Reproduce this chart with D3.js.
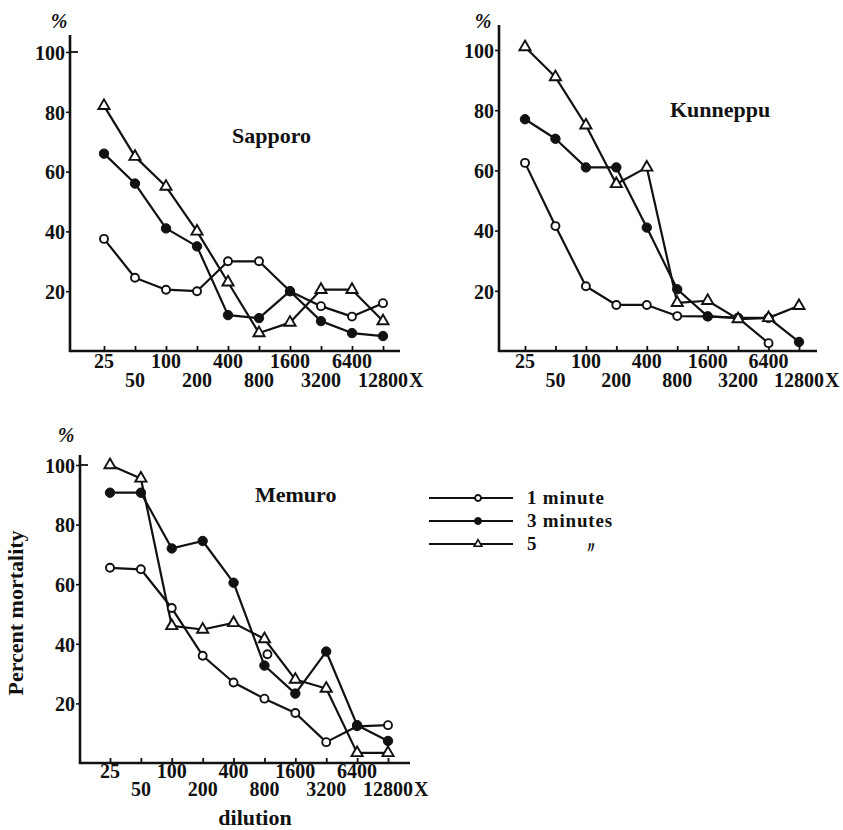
<!DOCTYPE html>
<html>
<head>
<meta charset="utf-8">
<script src="https://cdn.jsdelivr.net/npm/d3@7"></script>
<style>
  body { margin: 0; background: #fff; }
  svg text { font-family: "Liberation Serif", "Times New Roman", serif; font-weight: bold; fill: #111; }
</style>
</head>
<body>
<svg id="chart" width="843" height="830"></svg>
<script>
// dilution steps shared by all three panels
const dilutions = ['25', '50', '100', '200', '400', '800', '1600', '3200', '6400', '12800'];
const yTicks = [20, 40, 60, 80, 100];

// percent mortality (null = no point plotted)
const sapporo1 = [37.5, 24.5, 20.5, 20, 30, 30, 20, 15, 11.5, 16];
const sapporo3 = [66, 56, 41, 35, 12, 11, 20, 10, 6, 5];
const sapporo5 = [82, 65, 55, 40, 23, 6, 9.5, 20.5, 20.5, 10];

const kunneppu1 = [62.5, 41.5, 21.5, 15.3, 15.3, 11.6, 11.5, 11, 2.6, null];
const kunneppu3 = [77, 70.5, 61, 61, 41, 20.5, 11.5, 11, 11, 3];
const kunneppu5 = [101, 91, 75, 55.5, 61, 16, 16.7, 10.6, 11, 15];

const memuro1 = [65.5, 65, 52, 36, 27, 21.6, 16.8, 7, 12.3, 12.7];
const memuro3 = [90.7, 90.7, 72, 74.5, 60.5, 32.7, 23.3, 37.4, 12.7, 7.4];
const memuro5 = [100, 95.5, 46, 44.8, 47, 41.6, 28, 25, 3.4, 3.4];
// lone open circle printed beside the 800 step in Memuro
const memuroStray = [{ dilution: '800', value: 36.5 }];

const legendLabels = ['1 minute', '3 minutes', '5'];

const svg = d3.select('#chart');
const ink = '#111';

const panels = [
  { title: 'Sapporo', series: [sapporo1, sapporo3, sapporo5], stray: [],
    axisX: 70, axisTop: 35, axisRight: 400, yBottom: 351, yTop: 52, xFirst: 104, xLast: 383,
    rows: [368, 387], pct: [59, 28], titleAt: [232, 143], topTickRight: true },
  { title: 'Kunneppu', series: [kunneppu1, kunneppu3, kunneppu5], stray: [],
    axisX: 499, axisTop: 25, axisRight: 817, yBottom: 351, yTop: 50, xFirst: 525, xLast: 799,
    rows: [368, 387], pct: [483, 28], titleAt: [670, 117], topTickRight: false },
  { title: 'Memuro', series: [memuro1, memuro3, memuro5], stray: memuroStray,
    axisX: 80, axisTop: 455, axisRight: 410, yBottom: 763, yTop: 465, xFirst: 110, xLast: 388,
    rows: [778, 796], pct: [66, 442], titleAt: [255, 502], topTickRight: true },
];

const kinds = ['open', 'filled', 'triangle'];

function drawMarker(sel, kind, small) {
  if (kind === 'triangle') {
    sel.append('path')
      .attr('d', d3.symbol(d3.symbolTriangle, small ? 26 : 54)())
      .attr('fill', '#fff').attr('stroke', ink).attr('stroke-width', small ? 1.6 : 1.9);
  } else {
    sel.append('circle')
      .attr('r', kind === 'open' ? (small ? 3 : 4) : (small ? 3.5 : 4.7))
      .attr('fill', kind === 'open' ? '#fff' : ink)
      .attr('stroke', ink).attr('stroke-width', kind === 'open' ? 1.9 : 1);
  }
}

panels.forEach(p => {
  const g = svg.append('g');
  const x = d3.scalePoint().domain(dilutions).range([p.xFirst, p.xLast]);
  const y = d3.scaleLinear().domain([0, 100]).range([p.yBottom, p.yTop]);

  // axis lines
  g.append('line')
    .attr('x1', p.axisX).attr('x2', p.axisX).attr('y1', p.axisTop).attr('y2', y(0) + 1)
    .attr('stroke', ink).attr('stroke-width', 2.6);
  g.append('line')
    .attr('x1', p.axisX - 1).attr('x2', p.axisRight).attr('y1', y(0)).attr('y2', y(0))
    .attr('stroke', ink).attr('stroke-width', 2.6);

  // y axis ticks and labels
  const yAxis = g.append('g')
    .attr('transform', `translate(${p.axisX},0)`)
    .call(d3.axisLeft(y).tickValues(yTicks).tickSize(4).tickPadding(1));
  yAxis.select('.domain').remove();
  yAxis.selectAll('line').attr('stroke', ink).attr('stroke-width', 1.6);
  yAxis.selectAll('text').attr('font-size', 20).attr('fill', ink).attr('dy', '0.36em');
  if (p.topTickRight) {
    g.append('line')
      .attr('x1', p.axisX).attr('x2', p.axisX + 8).attr('y1', y(100)).attr('y2', y(100))
      .attr('stroke', ink).attr('stroke-width', 1.8);
  }

  // x ticks pointing up
  const xAxis = g.append('g')
    .attr('transform', `translate(0,${y(0)})`)
    .call(d3.axisBottom(x).tickSize(-5).tickFormat(''));
  xAxis.select('.domain').remove();
  xAxis.selectAll('line').attr('stroke', ink).attr('stroke-width', 1.8);

  // staggered dilution labels
  g.selectAll('.xlab')
    .data(dilutions)
    .join('text')
      .attr('class', 'xlab')
      .attr('x', d => x(d))
      .attr('y', (d, i) => p.rows[i % 2])
      .attr('text-anchor', 'middle')
      .attr('font-size', 20)
      .text(d => d);
  const last = dilutions[dilutions.length - 1];
  const lastW = g.selectAll('.xlab').filter(d => d === last).node().getComputedTextLength();
  g.append('text')
    .attr('x', x(last) + lastW / 2 + 1)
    .attr('y', p.rows[1])
    .attr('font-size', 20)
    .text('X');

  g.append('text')
    .attr('x', p.pct[0]).attr('y', p.pct[1])
    .attr('text-anchor', 'middle')
    .attr('font-size', 20).attr('font-style', 'italic')
    .text('%');

  g.append('text')
    .attr('x', p.titleAt[0]).attr('y', p.titleAt[1])
    .attr('font-size', 22)
    .text(p.title);

  // series lines
  const line = d3.line()
    .defined(d => d.value != null)
    .x(d => x(d.dilution))
    .y(d => y(d.value));

  p.series.forEach(vals => {
    const pts = dilutions.map((d, i) => ({ dilution: d, value: vals[i] }));
    g.append('path')
      .datum(pts)
      .attr('d', line)
      .attr('fill', 'none')
      .attr('stroke', ink)
      .attr('stroke-width', 2.2)
      .attr('stroke-linejoin', 'round');
  });

  p.series.forEach((vals, si) => {
    const pts = dilutions.map((d, i) => ({ dilution: d, value: vals[i] })).filter(d => d.value != null);
    g.selectAll(null)
      .data(pts)
      .join('g')
        .attr('transform', d => `translate(${x(d.dilution)},${y(d.value)})`)
        .each(function() { drawMarker(d3.select(this), kinds[si], false); });
  });

  g.selectAll(null)
    .data(p.stray)
    .join('g')
      .attr('transform', d => `translate(${x(d.dilution) + 3},${y(d.value)})`)
      .each(function() { drawMarker(d3.select(this), 'open', false); });
});

// axis titles for the Memuro panel
svg.append('text')
  .attr('transform', 'translate(23,613) rotate(-90)')
  .attr('text-anchor', 'middle')
  .attr('font-size', 22)
  .text('Percent mortality');

svg.append('text')
  .attr('x', 255).attr('y', 825)
  .attr('text-anchor', 'middle')
  .attr('font-size', 22)
  .text('dilution');

// legend
const legend = svg.append('g');
const legendRows = [498, 521, 544];
legendLabels.forEach((label, i) => {
  const row = legend.append('g').attr('transform', `translate(0,${legendRows[i]})`);
  row.append('line')
    .attr('x1', 429).attr('x2', 513).attr('y1', 0).attr('y2', 0)
    .attr('stroke', ink).attr('stroke-width', 2);
  drawMarker(row.append('g').attr('transform', 'translate(478,0)'), kinds[i], true);
  row.append('text')
    .attr('x', 527).attr('y', 6)
    .attr('font-size', 19)
    .attr('letter-spacing', 0.8)
    .text(label);
});
legend.append('text')
  .attr('x', 583).attr('y', 553)
  .attr('font-size', 16)
  .attr('font-family', '"Noto Sans CJK JP", sans-serif')
  .attr('font-weight', 'normal')
  .text('〃');
</script>
</body>
</html>
